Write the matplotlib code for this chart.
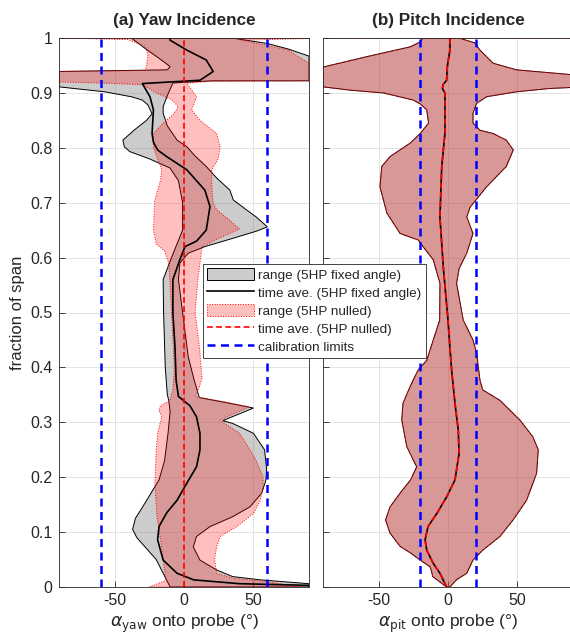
import matplotlib.pyplot as plt
import numpy as np
from matplotlib.patches import Patch
from matplotlib.lines import Line2D

plt.rcParams['font.family'] = ['Liberation Sans', 'DejaVu Sans']
plt.rcParams['axes.unicode_minus'] = False

# ---- (a) yaw: range of the 5HP at fixed angle (left / right edge paths, bottom to top)
yaw_fix_lo_x = [-10, -12, -16, -20, -27, -34, -37, -35, -30, -24, -18, -14, -11.5, -10, -11, -12, -13.5,
                -14.7, -15, -9, -1, -1, -4, -10, -25, -39, -43, -44, -36, -27, -23, -26, -30, -38, -57,
                -90, -90, -12, -10, -18, -28, -38]
yaw_fix_lo_y = [0.0, 0.01, 0.03, 0.05, 0.07, 0.09, 0.105, 0.125, 0.145, 0.17, 0.195, 0.23, 0.28, 0.32, 0.34,
                0.35, 0.40, 0.50, 0.56, 0.60, 0.65, 0.70, 0.74, 0.763, 0.78, 0.793, 0.802, 0.814, 0.832,
                0.85, 0.862, 0.878, 0.887, 0.893, 0.902, 0.911, 0.939, 0.942, 0.948, 0.963, 0.981, 1.0]
yaw_fix_hi_x = [90, 90, 55, 35, 23.5, 11.5, 6.7, 9, 18.7, 35, 47.5, 56, 59, 59.5, 58, 50, 35, 28, 50, 30, 11,
                7, 3, -1, -4, -3, 3, 15, 35, 52, 60, 52, 45, 35.5, 33, 23.5, 16, 8, 2, -5, -12, -15, -15,
                -12, -8, 20, 90, 90, 75, 60, 37, 35]
yaw_fix_hi_y = [0.0, 0.006, 0.013, 0.019, 0.031, 0.049, 0.073, 0.092, 0.11, 0.128, 0.146, 0.171, 0.195, 0.215,
                0.25, 0.28, 0.298, 0.303, 0.326, 0.336, 0.345, 0.38, 0.42, 0.5, 0.56, 0.59, 0.608, 0.62,
                0.635, 0.648, 0.656, 0.674, 0.687, 0.705, 0.723, 0.745, 0.766, 0.785, 0.802, 0.814, 0.84,
                0.863, 0.875, 0.895, 0.918, 0.922, 0.922, 0.967, 0.98, 0.99, 0.999, 1.0]

# ---- (a) yaw: range of the nulled 5HP
yaw_nul_lo_x = [-25, -13, -14, -16, -19.5, -21, -20, -19, -16, -18, -17, -10, -8, -7, -8, -9, -10, -11, -14,
                -20, -22, -21, -17, -16, -19, -22, -22, -15, -8, -4, -9, -20, -30, -60, -90, -90, -28, -27,
                -26, -28, -40, -90]
yaw_nul_lo_y = [0.0, 0.012, 0.03, 0.07, 0.13, 0.19, 0.25, 0.28, 0.31, 0.322, 0.33, 0.34, 0.36, 0.40, 0.45,
                0.5, 0.55, 0.59, 0.612, 0.625, 0.65, 0.705, 0.74, 0.76, 0.78, 0.80, 0.826, 0.845, 0.86,
                0.875, 0.888, 0.9, 0.915, 0.918, 0.92, 0.939, 0.941, 0.95, 0.97, 0.985, 0.997, 1.0]
yaw_nul_hi_x = [84, 59, 35, 23.5, 22, 23.5, 26, 38, 50, 55, 57, 57, 52, 47.5, 40, 28, 26, 47, 30, 8, 10, 13,
                11, 8, 10, 12, 13, 25, 40, 32, 23.5, 21, 20, 20, 24.6, 26, 23.5, 11.5, 5.5, 9, 2, 20, 90, 90,
                75, 70, 41.5, 90, 90]
yaw_nul_hi_y = [0.0, 0.01, 0.016, 0.025, 0.05, 0.073, 0.092, 0.11, 0.134, 0.158, 0.185, 0.2, 0.23, 0.25, 0.28,
                0.3, 0.304, 0.328, 0.337, 0.347, 0.357, 0.38, 0.44, 0.5, 0.56, 0.6, 0.62, 0.635, 0.652, 0.67,
                0.687, 0.7, 0.73, 0.76, 0.78, 0.802, 0.826, 0.85, 0.869, 0.893, 0.918, 0.921, 0.922, 0.954,
                0.978, 0.981, 0.996, 0.999, 1.0]

# ---- (a) yaw: time averages
yaw_fix_ave_x = [90, 40, 7, -5, -15, -19, -18, -12.5, -5, 2, 9, 11.5, 11.5, 9, 4.3, -0.5, -4, -5.7, -6.5, -8,
                 -8, -3, 0.7, 9, 16, 18.7, 15, 2, -12.5, -19, -22, -23, -22, -24.5, -30, 11.5, 21, 16, 2,
                 -10, -10]
yaw_fix_ave_y = [0.003, 0.006, 0.013, 0.025, 0.049, 0.086, 0.11, 0.135, 0.158, 0.189, 0.219, 0.25, 0.28, 0.31,
                 0.33, 0.34, 0.347, 0.377, 0.438, 0.499, 0.56, 0.596, 0.62, 0.63, 0.65, 0.693, 0.723, 0.76,
                 0.784, 0.796, 0.81, 0.826, 0.869, 0.893, 0.917, 0.923, 0.939, 0.96, 0.978, 0.996, 1.0]
yaw_nul_ave_x = [0, 0]
yaw_nul_ave_y = [0, 1]

# ---- (b) pitch: range (same for fixed and nulled probe) and time average
pit_lo_x = [-1, -11, -12, -13, -20, -27, -34.5, -41.7, -45, -41.7, -34.5, -27, -22.5, -25, -29.7, -33.3,
            -32.4, -27.3, -21.6, -15.3, -10.6, -6, -5.8, -10.6, -18, -21.4, -34.5, -44, -49, -47.7, -41.7,
            -27, -20, -14, -15.3, -20, -25, -46.6, -70.5, -90, -90, -58.5, -27, -20, -18]
pit_lo_y = [0.0, 0.019, 0.03, 0.037, 0.049, 0.062, 0.074, 0.098, 0.122, 0.146, 0.171, 0.195, 0.219, 0.231,
            0.256, 0.304, 0.335, 0.365, 0.395, 0.413, 0.45, 0.486, 0.553, 0.596, 0.62, 0.632, 0.644, 0.681,
            0.729, 0.766, 0.784, 0.809, 0.826, 0.845, 0.869, 0.88, 0.887, 0.9, 0.905, 0.911, 0.947, 0.966,
            0.984, 0.993, 1.0]
pit_hi_x = [1.4, 6, 13.5, 18, 25, 37.4, 46.8, 56.6, 63.8, 65, 61, 51.8, 37.4, 25, 23, 20.6, 18, 11, 6.2, 8,
            13.5, 18, 13.5, 16, 27.8, 42, 47, 42, 32.5, 23, 18, 18, 20.6, 27.8, 49.4, 73, 90, 90, 49.4, 32.5,
            23, 19.4, 8]
pit_hi_y = [0.0, 0.013, 0.025, 0.049, 0.067, 0.092, 0.122, 0.158, 0.207, 0.25, 0.274, 0.304, 0.34, 0.359,
            0.377, 0.426, 0.45, 0.486, 0.553, 0.58, 0.608, 0.644, 0.674, 0.692, 0.729, 0.766, 0.796, 0.814,
            0.826, 0.832, 0.845, 0.863, 0.881, 0.893, 0.902, 0.908, 0.91, 0.933, 0.942, 0.954, 0.978, 0.991,
            1.0]
pit_ave_x = [-1, -5.8, -10.6, -15.3, -16.5, -14.4, -8, -1, 5, 8, 7.4, 5, 2.6, 1, 0, -3.4, -5.8, -4.5, -2.2,
             -2.2, -4, -3.6, -1, -0.5, 1.4, 1.4]
pit_ave_y = [0.0, 0.025, 0.043, 0.067, 0.086, 0.11, 0.134, 0.164, 0.195, 0.243, 0.286, 0.335, 0.395, 0.45,
             0.486, 0.583, 0.674, 0.766, 0.826, 0.9, 0.908, 0.915, 0.923, 0.948, 0.978, 1.0]

yaw_cal = [-60, 60]
pit_cal = [-20, 20]

legend_labels = ['range (5HP fixed angle)', 'time ave. (5HP fixed angle)', 'range (5HP nulled)',
                 'time ave. (5HP nulled)', 'calibration limits']

txt = '#262626'
gray_face = (0.5, 0.5, 0.5, 0.4)
pink_face = (1.0, 0.0, 0.0, 0.25)
dash_red = (0, (3.5, 2.0))
dash_blue = (0, (3.2, 2.2))


def band(ax, lo_x, lo_y, hi_x, hi_y, face, edge, ls, z):
    xs = np.r_[lo_x, hi_x[::-1]]
    ys = np.r_[lo_y, hi_y[::-1]]
    ax.fill(xs, ys, facecolor=face, edgecolor=edge, linestyle=ls, linewidth=0.7, zorder=z)


def style(ax, xlabel):
    ax.set_xlim(-90, 90)
    ax.set_ylim(0, 1)
    ax.set_xticks([-50, 0, 50])
    ax.set_yticks(np.arange(0, 1.01, 0.1))
    ax.set_yticklabels(['0', '0.1', '0.2', '0.3', '0.4', '0.5', '0.6', '0.7', '0.8', '0.9', '1'])
    ax.grid(True, color='#dedede', linewidth=0.6, zorder=0)
    ax.set_axisbelow(True)
    ax.tick_params(direction='in', length=4, width=0.6, colors=txt, labelsize=11.5, pad=4.5)
    for s in ax.spines.values():
        s.set_color(txt)
        s.set_linewidth(0.6)
    ax.set_xlabel(xlabel, fontsize=12.5, color=txt, labelpad=3)


fig = plt.figure(figsize=(5.7, 6.43), dpi=100)
ax1 = fig.add_axes([59 / 570, 56 / 643, 250 / 570, 549 / 643])
ax2 = fig.add_axes([323 / 570, 56 / 643, 250 / 570, 549 / 643])

# (a) yaw incidence
band(ax1, yaw_fix_lo_x, yaw_fix_lo_y, yaw_fix_hi_x, yaw_fix_hi_y, gray_face, 'k', '-', 2)
band(ax1, yaw_nul_lo_x, yaw_nul_lo_y, yaw_nul_hi_x, yaw_nul_hi_y, pink_face, 'r', ':', 2.1)
ax1.plot(yaw_fix_ave_x, yaw_fix_ave_y, color='k', lw=1.2, zorder=3)
ax1.plot(yaw_nul_ave_x, yaw_nul_ave_y, color='r', lw=1.2, ls=dash_red, zorder=3.1)
for c in yaw_cal:
    ax1.axvline(c, color='b', lw=1.8, ls=dash_blue, zorder=3.2)
style(ax1, r'$\alpha_{\mathrm{yaw}}$ onto probe (°)')
ax1.set_ylabel('fraction of span', fontsize=12, color=txt, labelpad=4)
ax1.set_title('(a) Yaw Incidence', fontsize=12.3, fontweight='bold', color=txt, pad=9)

# (b) pitch incidence
band(ax2, pit_lo_x, pit_lo_y, pit_hi_x, pit_hi_y, gray_face, 'k', '-', 2)
band(ax2, pit_lo_x + [-90], pit_lo_y + [1.0], pit_hi_x + [90], pit_hi_y + [1.0], pink_face, 'r', ':', 2.1)
ax2.plot(pit_ave_x, pit_ave_y, color='k', lw=1.2, zorder=3)
ax2.plot(pit_ave_x, pit_ave_y, color='r', lw=1.2, ls=dash_red, zorder=3.1)
for c in pit_cal:
    ax2.axvline(c, color='b', lw=1.8, ls=dash_blue, zorder=3.2)
style(ax2, r'$\alpha_{\mathrm{pit}}$ onto probe (°)')
ax2.tick_params(labelleft=False)
ax2.set_title('(b) Pitch Incidence', fontsize=12.3, fontweight='bold', color=txt, pad=9)

handles = [Patch(facecolor=gray_face, edgecolor='k', linewidth=0.7),
           Line2D([], [], color='k', lw=1.2),
           Patch(facecolor=pink_face, edgecolor='r', linestyle=':', linewidth=0.7),
           Line2D([], [], color='r', lw=1.2, ls=dash_red),
           Line2D([], [], color='b', lw=1.8, ls=dash_blue)]
leg = fig.legend(handles, legend_labels, loc='upper left', bbox_to_anchor=(203 / 570, 1 - 264 / 643),
                 fontsize=9.7, frameon=True, fancybox=False, framealpha=1, edgecolor=txt,
                 handlelength=3.5, handleheight=1.0, borderpad=0.3, labelspacing=0.32,
                 handletextpad=0.3, borderaxespad=0)
leg.get_frame().set_linewidth(0.6)
for t in leg.get_texts():
    t.set_color(txt)

fig.savefig('out.png', dpi=100)
